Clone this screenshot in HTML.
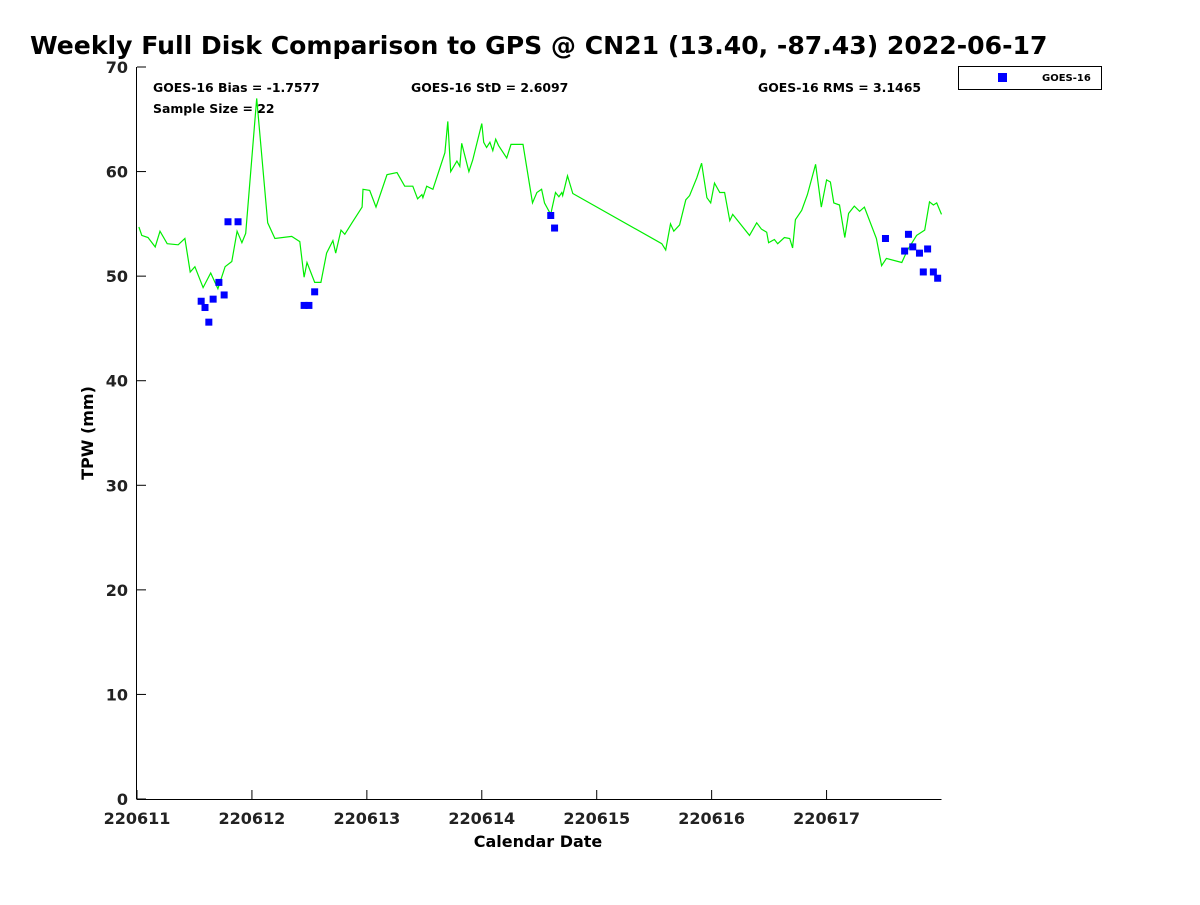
<!DOCTYPE html>
<html><head><meta charset="utf-8"><style>
body{margin:0;background:#fff;}
svg text{font-family:"DejaVu Sans","Liberation Sans",sans-serif;font-weight:bold;}
</style></head><body>
<svg id="chart" width="1200" height="900" xmlns="http://www.w3.org/2000/svg">
<text x="30" y="54" font-size="25.1" fill="#000">Weekly Full Disk Comparison to GPS @ CN21 (13.40, -87.43) 2022-06-17</text>
<g id="axes"></g>
<g id="marks"></g>
<text x="153" y="92" font-size="12.45">GOES-16 Bias = -1.7577</text>
<text x="153" y="113" font-size="12.45">Sample Size = 22</text>
<text x="411" y="92" font-size="12.45">GOES-16 StD = 2.6097</text>
<text x="758" y="92" font-size="12.45">GOES-16 RMS = 3.1465</text>
<g>
<rect x="958.5" y="66.5" width="143" height="23" fill="#fff" stroke="#000" stroke-width="1"/>
<rect x="998" y="73" width="9" height="9" fill="#0000ff"/>
<text x="1042" y="81" font-size="10">GOES-16</text>
</g>
<text x="538" y="847" font-size="16" text-anchor="middle">Calendar Date</text>
<text transform="translate(93,433) rotate(-90)" font-size="16" text-anchor="middle">TPW (mm)</text>
</svg>
<script>
const xTickLabels=["220611","220612","220613","220614","220615","220616","220617"];
const yTicks=[0,10,20,30,40,50,60,70];
const gpsHours=[0.4,1.0,2.3,3.8,4.8,6.3,8.6,10.0,11.1,12.1,13.8,15.4,16.9,18.4,19.8,20.9,21.9,22.7,25.0,27.3,28.8,32.3,34.0,34.9,35.5,37.1,38.4,39.6,40.9,41.5,42.6,43.4,44.9,47.0,47.2,48.6,49.9,52.2,54.3,55.9,57.6,58.6,59.5,59.7,60.5,61.8,64.3,64.9,65.5,66.8,67.4,67.8,69.3,70.1,72.0,72.4,73.0,73.7,74.3,74.9,75.5,77.2,78.1,80.6,82.6,83.5,84.5,85.1,86.4,87.4,88.1,88.7,88.9,89.9,91.0,109.6,110.4,111.4,112.1,113.3,114.6,115.4,116.9,117.9,119.0,119.8,120.6,121.7,122.7,123.8,124.4,127.9,129.4,130.4,131.5,131.9,133.1,133.8,135.2,136.3,136.9,137.5,138.8,140.0,141.7,142.9,144.0,144.8,145.5,146.7,147.8,148.6,149.8,150.9,151.9,154.4,155.5,156.5,159.7,160.9,162.8,164.5,165.5,166.3,167.0,168.0];
const gpsTpw=[54.7,53.9,53.7,52.8,54.3,53.1,53.0,53.6,50.4,50.9,48.9,50.3,48.8,50.9,51.4,54.3,53.2,54.1,67.0,55.1,53.6,53.8,53.3,49.9,51.3,49.4,49.4,52.2,53.4,52.2,54.4,54.0,55.1,56.6,58.3,58.2,56.6,59.7,59.9,58.6,58.6,57.4,57.8,57.5,58.6,58.3,61.8,64.8,60.0,61.0,60.5,62.7,60.0,61.1,64.6,62.8,62.3,62.8,62.0,63.1,62.5,61.3,62.6,62.6,57.0,58.0,58.3,57.0,55.9,58.0,57.6,58.0,57.7,59.6,57.9,53.1,52.5,55.0,54.3,54.9,57.3,57.7,59.4,60.8,57.5,57.0,58.9,58.0,58.0,55.3,55.9,53.9,55.1,54.5,54.2,53.2,53.5,53.1,53.7,53.6,52.7,55.4,56.3,57.8,60.7,56.6,59.2,59.0,57.0,56.8,53.7,56.0,56.7,56.2,56.6,53.6,51.0,51.7,51.3,52.5,53.9,54.4,57.1,56.8,57.0,55.9];
const goesHours=[13.4,14.2,15.0,15.9,17.1,18.2,19.0,21.1,34.9,35.9,37.1,86.4,87.2,156.3,160.3,161.1,162.0,163.4,164.2,165.1,166.3,167.2];
const goesTpw=[47.6,47.0,45.6,47.8,49.4,48.2,55.2,55.2,47.2,47.2,48.5,55.8,54.6,53.6,52.4,54.0,52.8,52.2,50.4,52.6,50.4,49.8];

const NS="http://www.w3.org/2000/svg";
const X0=137,X1=941.5,Y0=799,Y1=67;
function xs(h){return X0+(h/168)*(X1-X0);}
function ys(v){return Y0-(v/70)*(Y0-Y1);}
function mk(tag,attrs,parent){const e=document.createElementNS(NS,tag);for(const k in attrs)e.setAttribute(k,attrs[k]);parent.appendChild(e);return e;}
const axes=document.getElementById('axes'),marks=document.getElementById('marks');
let a=mk('line',{x1:X0-0.5,y1:Y1,x2:X0-0.5,y2:Y0,stroke:'#000','stroke-width':1},axes);


a=mk('line',{x1:X0-0.5,y1:Y0+0.5,x2:X1,y2:Y0+0.5,stroke:'#000','stroke-width':1},axes);


yTicks.forEach(v=>{const y=ys(v);
 const t=mk('line',{x1:X0,y1:y,x2:X0+9,y2:y,stroke:'#000'},axes);
 
 
 const l=mk('text',{x:X0-9,y:y+6,'font-size':16,'text-anchor':'end',fill:'#222'},axes);l.textContent=v;
 
 
});
xTickLabels.forEach((s,i)=>{const x=xs(i*24);
 const t=mk('line',{x1:x,y1:Y0,x2:x,y2:Y0-9,stroke:'#000'},axes);
 
 
 const l=mk('text',{x:x,y:824,'font-size':16,'text-anchor':'middle',fill:'#222'},axes);l.textContent=s;
 
 
});
const pts=gpsHours.map((h,i)=>xs(h).toFixed(1)+','+ys(gpsTpw[i]).toFixed(1)).join(' ');
const pl=mk('polyline',{points:pts,fill:'none',stroke:'#00ee00','stroke-width':1.2},marks);


goesHours.forEach((h,i)=>{
 const r=mk('rect',{x:xs(h)-3.5,y:ys(goesTpw[i])-3.5,width:7,height:7,fill:'#0000ff'},marks);
 
 
});
</script>
</body></html>
